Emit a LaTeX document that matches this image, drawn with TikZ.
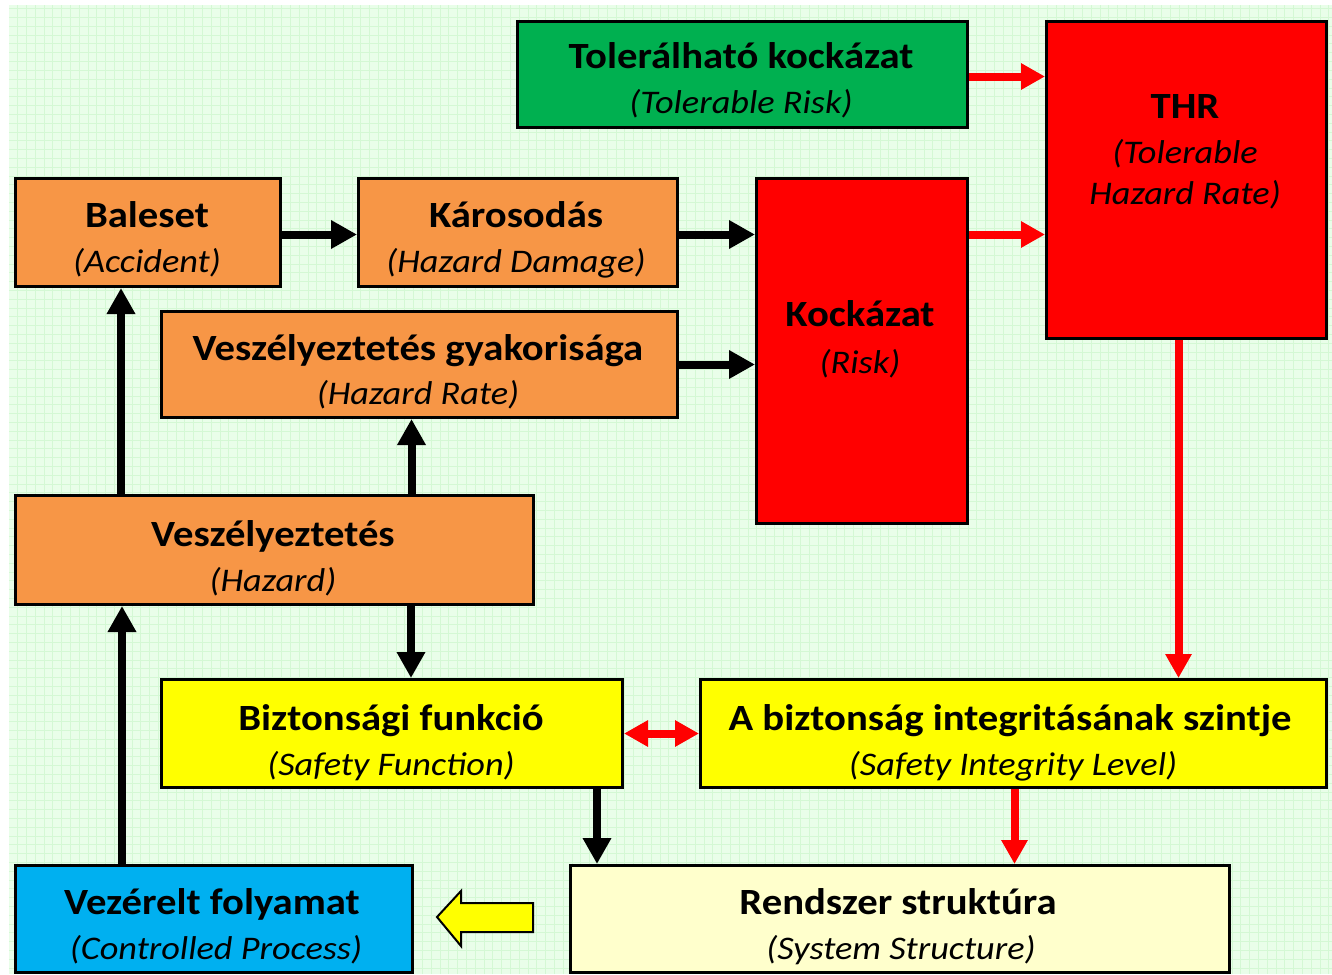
\documentclass[tikz,border=0pt]{standalone}
\usepackage{fontspec}
\setmainfont{Carlito}[FakeStretch=1.1]
\usetikzlibrary{arrows.meta,calc}
\definecolor{bggreen}{HTML}{E9FEE9}
\definecolor{gridgreen}{HTML}{D4F8D4}
\definecolor{boxorange}{HTML}{F79646}
\definecolor{boxred}{HTML}{FF0000}
\definecolor{boxgreen}{HTML}{00B050}
\definecolor{boxyellow}{HTML}{FFFF00}
\definecolor{boxblue}{HTML}{00B0F0}
\definecolor{boxcream}{HTML}{FFFFCC}
\begin{document}
\begin{tikzpicture}[x=1pt,y=-1pt,
  box/.style={draw=black, line width=3pt, anchor=north west, inner sep=0pt},
  head/.style={anchor=base, inner sep=0pt, font=\fontsize{37}{40}\selectfont\bfseries},
  sub/.style={anchor=base, inner sep=0pt, font=\fontsize{33}{36}\selectfont\itshape},
  blk/.style={draw=black, line width=8pt, -{Triangle[length=26pt,width=27pt]}},
  redarr/.style={draw=boxred, line width=8pt, -{Triangle[length=24pt,width=25pt]}},
  redboth/.style={draw=boxred, line width=8pt, {Triangle[length=24pt,width=25pt]}-{Triangle[length=24pt,width=25pt]}},
  blockarrow/.style={draw=black, line width=2pt, fill=boxyellow, line join=miter}
]
\useasboundingbox (0,0) rectangle (1332,974);
% squared paper
\fill[white] (0,0) rectangle (1332,974);
\fill[bggreen] (9,5) rectangle (1332,974);
\draw[gridgreen, line width=1pt] (9,5) grid[step=8.8pt] (1332,974);

% boxes
\node[box, fill=boxgreen, minimum width=450pt, minimum height=106pt] (tol) at (516,20) {};
\node[box, fill=boxred, minimum width=280pt, minimum height=317pt] (thr) at (1045,20) {};
\node[box, fill=boxorange, minimum width=265pt, minimum height=108pt] (bal) at (14,177) {};
\node[box, fill=boxorange, minimum width=319pt, minimum height=108pt] (kar) at (357,177) {};
\node[box, fill=boxred, minimum width=211pt, minimum height=345pt] (kock) at (755,177) {};
\node[box, fill=boxorange, minimum width=516pt, minimum height=106pt] (vg) at (160,310) {};
\node[box, fill=boxorange, minimum width=518pt, minimum height=109pt] (vesz) at (14,494) {};
\node[box, fill=boxyellow, minimum width=461pt, minimum height=108pt] (bf) at (160,678) {};
\node[box, fill=boxyellow, minimum width=626pt, minimum height=108pt] (sil) at (699,678) {};
\node[box, fill=boxblue, minimum width=397pt, minimum height=107pt] (vez) at (14,864) {};
\node[box, fill=boxcream, minimum width=659pt, minimum height=107pt] (rend) at (569,864) {};

% labels
\node[head] (tol-h) at (741,68) {Tolerálható kockázat};
\node[sub] (tol-s) at (741,113) {(Tolerable Risk)};
\node[head] (thr-h) at (1185,118) {THR};
\node[sub] (thr-s1) at (1185,163) {(Tolerable};
\node[sub] (thr-s2) at (1185,204) {Hazard Rate)};
\node[head] (bal-h) at (147,227) {Baleset};
\node[sub] (bal-s) at (147,272) {(Accident)};
\node[head] (kar-h) at (516,227) {Károsodás};
\node[sub] (kar-s) at (516,272) {(Hazard Damage)};
\node[head] (kock-h) at (860,326) {Kockázat};
\node[sub] (kock-s) at (860,373) {(Risk)};
\node[head] (vg-h) at (418,360) {Veszélyeztetés gyakorisága};
\node[sub] (vg-s) at (418,404) {(Hazard Rate)};
\node[head] (vesz-h) at (273,546) {Veszélyeztetés};
\node[sub] (vesz-s) at (273,591) {(Hazard)};
\node[head] (bf-h) at (391,730) {Biztonsági funkció};
\node[sub] (bf-s) at (391,775) {(Safety Function)};
\node[head] (sil-h) at (1010,730) {A biztonság integritásának szintje};
\node[sub] (sil-s) at (1013,775) {(Safety Integrity Level)};
\node[head] (vez-h) at (212,914) {Vezérelt folyamat};
\node[sub] (vez-s) at (216,959) {(Controlled Process)};
\node[head] (rend-h) at (898,914) {Rendszer struktúra};
\node[sub] (rend-s) at (901,959) {(System Structure)};

% connectors
\coordinate (kar-out) at ([yshift=-2pt]kar.east);
\coordinate (vg-out) at (vg.east);
\coordinate (tol-out) at ([yshift=-2pt]tol.east);
\coordinate (bal-in) at ([xshift=-27pt]bal.south);
\coordinate (vez-out) at ([xshift=-92pt]vez.north);
\coordinate (vg-in) at ([xshift=-8pt]vg.south);
\coordinate (bf-in) at ([xshift=19pt]bf.north);
\coordinate (thr-out) at ([xshift=-8pt]thr.south);
\coordinate (bf-out) at ([xshift=205pt]bf.south);
\coordinate (sil-out) at ([xshift=1pt]sil.south);

\draw[blk] ([yshift=-2pt]bal.east) -- ([yshift=-2pt]bal.east -| kar.west);
\draw[blk] (kar-out) -- (kar-out -| kock.west);
\draw[blk] (vg-out) -- (vg-out -| kock.west);
\draw[redarr] (tol-out) -- (tol-out -| thr.west);
\draw[redarr] (kar-out -| kock.east) -- (kar-out -| thr.west);
\draw[redarr] (thr-out) -- (thr-out |- sil.north);
\draw[blk] (bal-in |- vesz.north) -- (bal-in);
\draw[blk] (vg-in |- vesz.north) -- (vg-in);
\draw[blk] (bf-in |- vesz.south) -- (bf-in);
\draw[blk] (vez-out) -- (vez-out |- vesz.south);
\draw[redboth] (bf.east) -- (sil.west);
\draw[blk] (bf-out) -- (bf-out |- rend.north);
\draw[redarr] (sil-out) -- (sil-out |- rend.north);

% hollow yellow arrow pointing from the structure to the process
\draw[blockarrow] (437,917) -- (461,891) -- (461,903) -- (533,903)
  -- (533,932) -- (461,932) -- (461,946) -- cycle;
\end{tikzpicture}
\end{document}
